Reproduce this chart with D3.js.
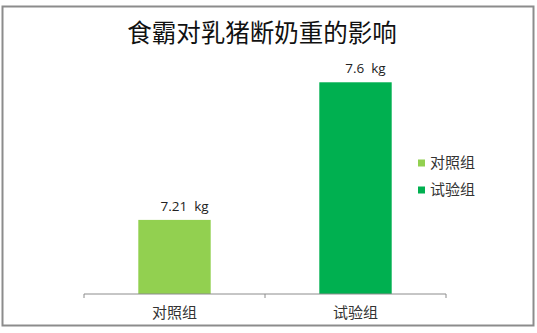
<!DOCTYPE html>
<html>
<head>
<meta charset="utf-8">
<script src="https://cdn.jsdelivr.net/npm/d3@7"></script>
<style>
  body { margin: 0; background: #fff; }
  text { font-family: "Noto Sans CJK SC", "Open Sans", sans-serif; }
</style>
</head>
<body>
<div id="chart"></div>
<script>
var titleText = "食霸对乳猪断奶重的影响";
var groups = ["对照组", "试验组"];
var weights = [7.21, 7.6];
var unit = "kg";
var colors = ["#92D050", "#00B050"];

var W = 537, H = 333;
var plot = { left: 84, right: 446, top: 47, bottom: 294 };

var svg = d3.select("#chart").append("svg")
  .attr("width", W)
  .attr("height", H);

// outer frame
svg.append("rect")
  .attr("x", 2.5).attr("y", 6.5)
  .attr("width", 531).attr("height", 319)
  .attr("fill", "#fff")
  .attr("stroke", "#8c8c8c")
  .attr("stroke-width", 2);

svg.append("text")
  .attr("x", 262).attr("y", 42)
  .attr("text-anchor", "middle")
  .style("font-size", "24.5px")
  .attr("fill", "#111")
  .text(titleText);

var x = d3.scaleBand()
  .domain(groups)
  .range([plot.left, plot.right])
  .paddingInner(0.6)
  .paddingOuter(0.3);

var y = d3.scaleLinear()
  .domain([7.0, 7.7])
  .range([plot.bottom, plot.top]);

var data = groups.map(function(g, i){
  return { name: g, value: weights[i], color: colors[i] };
});

svg.selectAll(".bar")
  .data(data)
  .enter().append("rect")
  .attr("class", "bar")
  .attr("x", function(d){ return x(d.name); })
  .attr("y", function(d){ return y(d.value); })
  .attr("width", x.bandwidth())
  .attr("height", function(d){ return plot.bottom - y(d.value); })
  .attr("fill", function(d){ return d.color; });

svg.selectAll(".lbl")
  .data(data)
  .enter().append("text")
  .attr("class", "lbl")
  .attr("x", function(d){ return x(d.name) + x.bandwidth() / 2 + 10; })
  .attr("y", function(d){ return y(d.value) - 9; })
  .attr("text-anchor", "middle")
  .attr("xml:space", "preserve")
  .style("font-size", "13.5px")
  .style("font-family", "'Open Sans', sans-serif")
  .attr("fill", "#222")
  .text(function(d){ return d.value + "  " + unit; });

// x axis with ticks between categories
var xAxis = d3.axisBottom(x).tickSize(0).tickPadding(13);
var gx = svg.append("g")
  .attr("transform", "translate(0," + plot.bottom + ")")
  .call(xAxis);
gx.select(".domain").attr("stroke", "#8c8c8c").attr("d", "M" + plot.left + ",4V0H" + plot.right + "V4");
gx.selectAll("text")
  .style("font-size", "15px")
  .style("font-family", "'Noto Sans CJK SC', sans-serif")
  .attr("fill", "#333");
gx.append("line")
  .attr("x1", (plot.left + plot.right) / 2).attr("x2", (plot.left + plot.right) / 2)
  .attr("y1", 0).attr("y2", 4)
  .attr("stroke", "#8c8c8c");

var legend = svg.selectAll(".legend")
  .data(data)
  .enter().append("g")
  .attr("class", "legend")
  .attr("transform", function(d, i){ return "translate(418," + (163 + i * 27) + ")"; });

legend.append("rect")
  .attr("x", 0).attr("y", -3.5)
  .attr("width", 7).attr("height", 7)
  .attr("fill", function(d){ return d.color; });

legend.append("text")
  .attr("x", 12).attr("y", 5)
  .style("font-size", "15px")
  .attr("fill", "#333")
  .text(function(d){ return d.name; });
</script>
</body>
</html>
